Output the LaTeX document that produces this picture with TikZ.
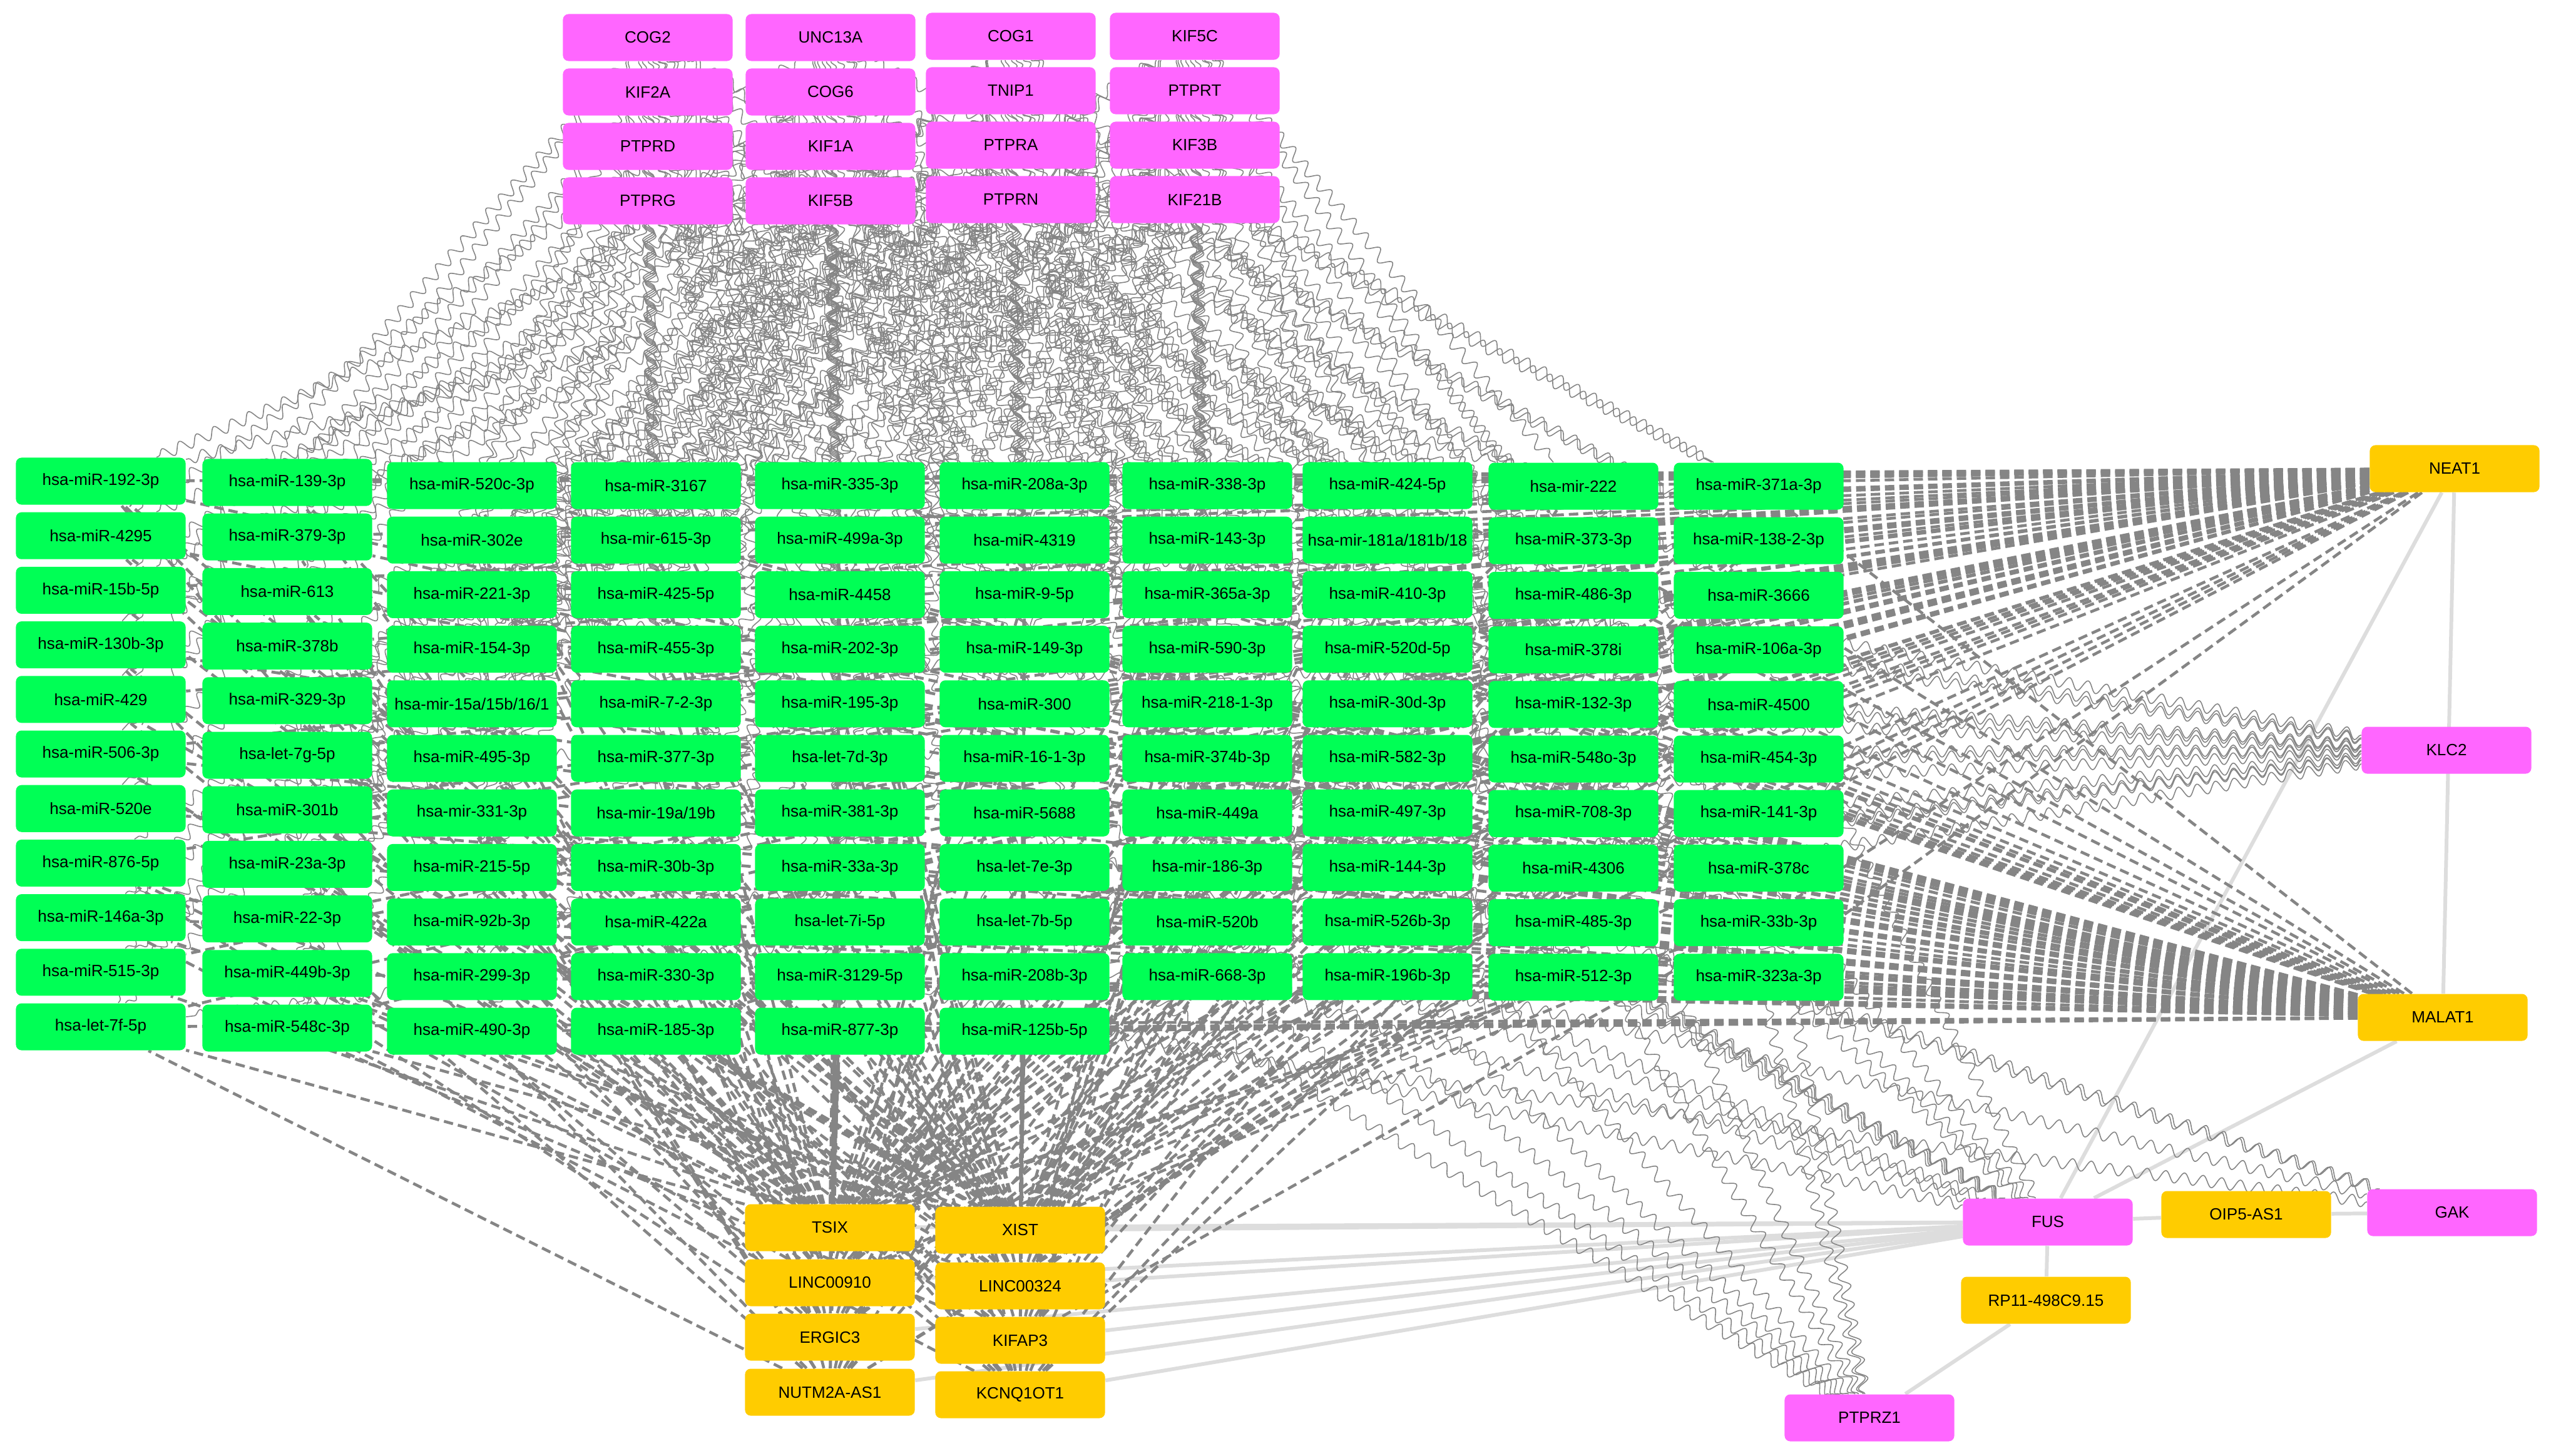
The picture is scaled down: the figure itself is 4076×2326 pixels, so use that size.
\documentclass[tikz,border=0pt]{standalone}
\usepackage{fontspec}
\setmainfont{Liberation Sans}
\usetikzlibrary{decorations.pathmorphing}
\pgfdeclarelayer{background}
\pgfsetlayers{background,main}
\definecolor{mirgreen}{HTML}{00FF55}
\definecolor{genepink}{HTML}{FF66FF}
\definecolor{lncyellow}{HTML}{FFCC00}
\definecolor{edgegray}{HTML}{858585}
\definecolor{coexgray}{HTML}{DDDDDD}
\tikzset{
  gbox/.style={rounded corners=0.9mm, minimum width=2.71cm, minimum height=0.75cm,
    inner sep=0pt, font=\fontsize{7.4}{9}\selectfont},
  mirna/.style={gbox, fill=mirgreen},
  mrna/.style={gbox, fill=genepink},
  lncrna/.style={gbox, fill=lncyellow},
  bind/.style={draw=edgegray, line width=0.45pt, decorate,
    decoration={snake, segment length=3mm, amplitude=0.9mm}},
  sponge/.style={draw=edgegray, line width=1.3pt, dash pattern=on 1.5mm off 0.8mm},
  coexp/.style={draw=coexgray, line width=1.7pt},
}
% one column of miRNA boxes: number, x, y of first row, labels
\newcommand\mircol[4]{%
  \foreach \lab [count=\row] in {#4}
    \node[mirna] (m#1-\row) at (#2, {#3+87.2*(\row-1)}) {\lab};
}
\begin{document}
\begin{tikzpicture}[x=0.01cm, y=-0.01cm]
    \useasboundingbox (0,0) rectangle (4076,2326);
    % mRNAs on top
    \node[mrna] (COG2) at (1035,60) {COG2};
    \node[mrna] (UNC13A) at (1327,60) {UNC13A};
    \node[mrna] (COG1) at (1615,58) {COG1};
    \node[mrna] (KIF5C) at (1909,58) {KIF5C};
    \node[mrna] (KIF2A) at (1035,147) {KIF2A};
    \node[mrna] (COG6) at (1327,147) {COG6};
    \node[mrna] (TNIP1) at (1615,145) {TNIP1};
    \node[mrna] (PTPRT) at (1909,145) {PTPRT};
    \node[mrna] (PTPRD) at (1035,234) {PTPRD};
    \node[mrna] (KIF1A) at (1327,234) {KIF1A};
    \node[mrna] (PTPRA) at (1615,232) {PTPRA};
    \node[mrna] (KIF3B) at (1909,232) {KIF3B};
    \node[mrna] (PTPRG) at (1035,321) {PTPRG};
    \node[mrna] (KIF5B) at (1327,321) {KIF5B};
    \node[mrna] (PTPRN) at (1615,319) {PTPRN};
    \node[mrna] (KIF21B) at (1909,319) {KIF21B};
    % miRNA grid
    \mircol{1}{161}{769}{hsa-miR-192-3p,hsa-miR-4295,hsa-miR-15b-5p,hsa-miR-130b-3p,hsa-miR-429,hsa-miR-506-3p,hsa-miR-520e,hsa-miR-876-5p,hsa-miR-146a-3p,hsa-miR-515-3p,hsa-let-7f-5p}
    \mircol{2}{459}{771}{hsa-miR-139-3p,hsa-miR-379-3p,hsa-miR-613,hsa-miR-378b,hsa-miR-329-3p,hsa-let-7g-5p,hsa-miR-301b,hsa-miR-23a-3p,hsa-miR-22-3p,hsa-miR-449b-3p,hsa-miR-548c-3p}
    \mircol{3}{754}{776}{hsa-miR-520c-3p,hsa-miR-302e,hsa-miR-221-3p,hsa-miR-154-3p,hsa-mir-15a/15b/16/1,hsa-miR-495-3p,hsa-mir-331-3p,hsa-miR-215-5p,hsa-miR-92b-3p,hsa-miR-299-3p,hsa-miR-490-3p}
    \mircol{4}{1048}{776}{hsa-miR-3167,hsa-mir-615-3p,hsa-miR-425-5p,hsa-miR-455-3p,hsa-miR-7-2-3p,hsa-miR-377-3p,hsa-mir-19a/19b,hsa-miR-30b-3p,hsa-miR-422a,hsa-miR-330-3p,hsa-miR-185-3p}
    \mircol{5}{1342}{776}{hsa-miR-335-3p,hsa-miR-499a-3p,hsa-miR-4458,hsa-miR-202-3p,hsa-miR-195-3p,hsa-let-7d-3p,hsa-miR-381-3p,hsa-miR-33a-3p,hsa-let-7i-5p,hsa-miR-3129-5p,hsa-miR-877-3p}
    \mircol{6}{1637}{776}{hsa-miR-208a-3p,hsa-miR-4319,hsa-miR-9-5p,hsa-miR-149-3p,hsa-miR-300,hsa-miR-16-1-3p,hsa-miR-5688,hsa-let-7e-3p,hsa-let-7b-5p,hsa-miR-208b-3p,hsa-miR-125b-5p}
    \mircol{7}{1929}{776}{hsa-miR-338-3p,hsa-miR-143-3p,hsa-miR-365a-3p,hsa-miR-590-3p,hsa-miR-218-1-3p,hsa-miR-374b-3p,hsa-miR-449a,hsa-mir-186-3p,hsa-miR-520b,hsa-miR-668-3p}
    \mircol{8}{2217}{776}{hsa-miR-424-5p,hsa-mir-181a/181b/18,hsa-miR-410-3p,hsa-miR-520d-5p,hsa-miR-30d-3p,hsa-miR-582-3p,hsa-miR-497-3p,hsa-miR-144-3p,hsa-miR-526b-3p,hsa-miR-196b-3p}
    \mircol{9}{2514}{777}{hsa-mir-222,hsa-miR-373-3p,hsa-miR-486-3p,hsa-miR-378i,hsa-miR-132-3p,hsa-miR-548o-3p,hsa-miR-708-3p,hsa-miR-4306,hsa-miR-485-3p,hsa-miR-512-3p}
    \mircol{10}{2810}{777}{hsa-miR-371a-3p,hsa-miR-138-2-3p,hsa-miR-3666,hsa-miR-106a-3p,hsa-miR-4500,hsa-miR-454-3p,hsa-miR-141-3p,hsa-miR-378c,hsa-miR-33b-3p,hsa-miR-323a-3p}
    % right side
    \node[lncrna] (NEAT1) at (3922,749) {NEAT1};
    \node[mrna] (KLC2) at (3909,1199) {KLC2};
    \node[lncrna] (MALAT1) at (3903,1626) {MALAT1};
    % bottom
    \node[lncrna] (TSIX) at (1326,1962) {TSIX};
    \node[lncrna] (XIST) at (1630,1966) {XIST};
    \node[lncrna] (LINC00910) at (1326,2050) {LINC00910};
    \node[lncrna] (LINC00324) at (1630,2055) {LINC00324};
    \node[lncrna] (ERGIC3) at (1326,2137) {ERGIC3};
    \node[lncrna] (KIFAP3) at (1630,2142) {KIFAP3};
    \node[lncrna] (NUTM2A) at (1326,2225) {NUTM2A-AS1};
    \node[lncrna] (KCNQ1OT1) at (1630,2229) {KCNQ1OT1};
    \node[mrna] (FUS) at (3272,1953) {FUS};
    \node[lncrna] (OIP5) at (3589,1941) {OIP5-AS1};
    \node[mrna] (GAK) at (3918,1938) {GAK};
    \node[lncrna] (RP11) at (3269,2078) {RP11-498C9.15};
    \node[mrna] (PTPRZ1) at (2987,2266) {PTPRZ1};
    \begin{pgfonlayer}{background}
    % lncRNA - mRNA
    \foreach \l in {TSIX,XIST,LINC00910,LINC00324,ERGIC3,KIFAP3,NUTM2A,KCNQ1OT1,NEAT1,MALAT1,OIP5,RP11}
        \draw[coexp] (FUS) -- (\l);
    \draw[coexp] (NEAT1) -- (MALAT1);
    \draw[coexp] (OIP5) -- (GAK);
    \draw[coexp] (RP11) -- (PTPRZ1);
    % miRNA - mRNA
    \foreach \g [count=\p] in {COG2,UNC13A,COG1,KIF5C,KIF2A,COG6,TNIP1,PTPRT,PTPRD,KIF1A,PTPRA,KIF3B,PTPRG,KIF5B,PTPRN,KIF21B}
        \foreach \col/\n in {1/11,2/11,3/11,4/11,5/11,6/11,7/10,8/10,9/10,10/10}
            \foreach \row in {1,...,\n} {
                \pgfmathtruncatemacro\h{mod(\p*5+\col*3+\row*7,9)}
                \ifnum\h=0 \draw[bind] (\g) -- (m\col-\row); \fi
            }
    \foreach \col/\n in {1/11,2/11,3/11,4/11,5/11,6/11,7/10,8/10,9/10,10/10}
        \foreach \row in {1,...,\n} {
            \pgfmathtruncatemacro\ha{mod(\col*7+\row*3,8)}
            \ifnum\ha=0 \draw[bind] (KLC2) -- (m\col-\row); \fi
            \pgfmathtruncatemacro\hb{mod(\col*2+\row*5,4)}
            \ifnum\col>4 \ifnum\row>3 \ifnum\hb=0 \draw[bind] (FUS) -- (m\col-\row); \fi\fi\fi
            \pgfmathtruncatemacro\hc{mod(\col+\row*2,3)}
            \ifnum\col>5 \ifnum\row>5 \ifnum\hc=0 \draw[bind] (PTPRZ1) -- (m\col-\row); \fi\fi\fi
        }
    \foreach \m in {m7-7,m8-10,m9-9,m6-11}
        \draw[bind] (GAK) -- (\m);
    % lncRNA - miRNA
    \foreach \col/\n in {1/11,2/11,3/11,4/11,5/11,6/11,7/10,8/10,9/10,10/10}
        \foreach \row in {1,...,\n} {
            \pgfmathtruncatemacro\ha{mod(\col*7+\row*3,5)}
            \ifnum\ha<3 \draw[sponge] (NEAT1) -- (m\col-\row); \fi
            \pgfmathtruncatemacro\ha{mod(\col*3+\row*7,5)}
            \ifnum\ha<3 \draw[sponge] (MALAT1) -- (m\col-\row); \fi
            \pgfmathtruncatemacro\ha{mod(\col*5+\row*11,7)}
            \ifnum\ha<3 \draw[sponge] (TSIX) -- (m\col-\row); \fi
            \pgfmathtruncatemacro\ha{mod(\col*11+\row*5,7)}
            \ifnum\ha<3 \draw[sponge] (XIST) -- (m\col-\row); \fi
            \pgfmathtruncatemacro\ha{mod(\col*13+\row*17,7)}
            \ifnum\ha=0 \draw[sponge] (LINC00910) -- (m\col-\row); \fi
            \ifnum\ha=1 \draw[sponge] (LINC00324) -- (m\col-\row); \fi
            \ifnum\ha=2 \draw[sponge] (ERGIC3) -- (m\col-\row); \fi
            \ifnum\ha=3 \draw[sponge] (KIFAP3) -- (m\col-\row); \fi
            \ifnum\ha=4 \draw[sponge] (NUTM2A) -- (m\col-\row); \fi
            \ifnum\ha=5 \draw[sponge] (KCNQ1OT1) -- (m\col-\row); \fi
        }
    \end{pgfonlayer}
\end{tikzpicture}
\end{document}
